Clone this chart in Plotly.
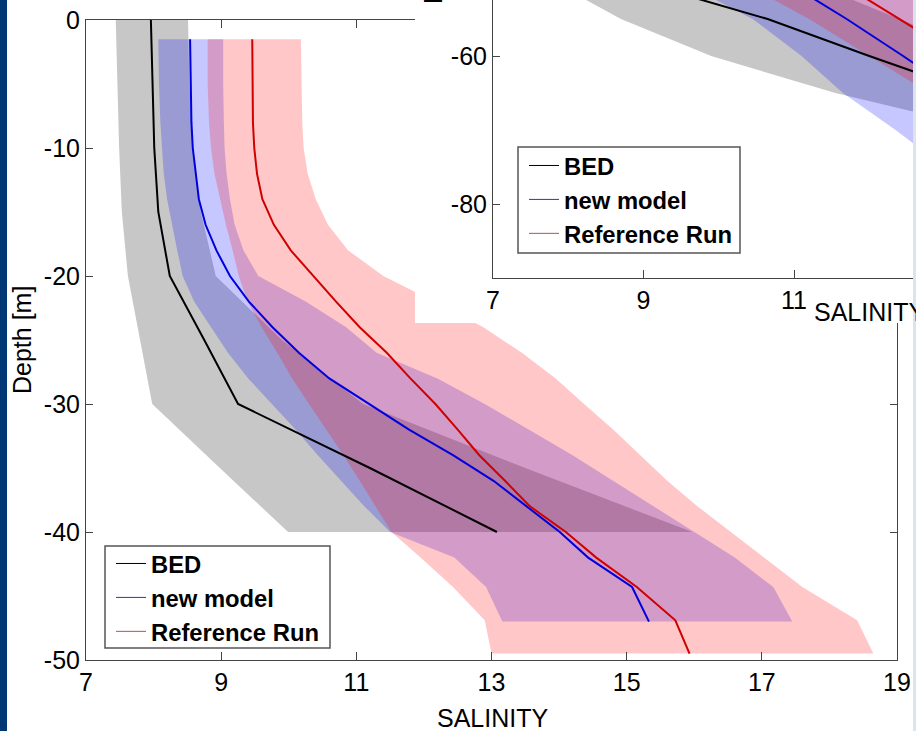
import plotly.graph_objects as go

W, H = 916, 731
FONT = "Liberation Sans, Arial, sans-serif"

# ---------------- main panel data (depth [m], salinity) ----------------
bed_depth = [0, -5, -10, -15, -20, -25, -30, -35, -40]
bed_mean = [7.96, 7.98, 8.01, 8.07, 8.24, 8.75, 9.25, 11.2, 13.08]
bed_lo = [7.44, 7.46, 7.49, 7.53, 7.62, 7.80, 7.98, 8.98, 9.99]
bed_hi = [8.51, 8.53, 8.58, 8.70, 8.92, 9.9, 11.1, 13.5, 15.97]

new_depth = [-1.5, -5, -8, -10, -12, -14, -16, -18, -20, -22, -24, -26, -28, -30,
             -32, -34, -36, -38, -40, -42, -44.3, -47]
new_mean = [8.54, 8.55, 8.56, 8.58, 8.62, 8.67, 8.77, 8.93, 9.13, 9.41, 9.76, 10.15,
            10.6, 11.19, 11.78, 12.43, 13.03, 13.52, 14.01, 14.43, 15.08, 15.33]
new_lo = [8.07, 8.08, 8.10, 8.12, 8.15, 8.20, 8.27, 8.35, 8.43, 8.60, 8.85, 9.10,
          9.40, 9.75, 10.10, 10.43, 10.78, 11.12, 11.50, 12.45, 12.92, 13.16]
new_hi = [9.03, 9.03, 9.04, 9.05, 9.08, 9.13, 9.20, 9.33, 9.55, 10.25, 10.85, 11.30,
          12.20, 12.90, 13.55, 14.20, 14.80, 15.40, 16.00, 16.60, 17.17, 17.45]

ref_depth = [-1.5, -5, -8, -10, -12, -14, -16, -18, -20, -22, -24, -26, -28, -30,
             -32, -34, -36, -38, -40, -42, -44.3, -46.9, -49.5]
ref_mean = [9.46, 9.46, 9.47, 9.49, 9.53, 9.61, 9.78, 10.03, 10.36, 10.70, 11.05,
            11.45, 11.80, 12.17, 12.50, 12.82, 13.20, 13.57, 14.10, 14.55, 15.15,
            15.72, 15.93]
ref_lo = [8.80, 8.80, 8.82, 8.85, 8.90, 8.98, 9.07, 9.17, 9.26, 9.39, 9.60, 9.83,
          10.05, 10.30, 10.56, 10.81, 11.05, 11.28, 11.52, 11.95, 12.43, 12.90, 13.00]
ref_hi = [10.18, 10.19, 10.20, 10.22, 10.28, 10.40, 10.58, 10.88, 11.40, 12.15,
          12.88, 13.45, 13.95, 14.37, 14.80, 15.20, 15.60, 16.05, 16.55, 17.03,
          17.60, 18.41, 18.65]

# ---------------- inset panel data (partly visible) ----------------
ins_bed_depth = [-50, -55, -60, -65, -70]
ins_bed_mean = [8.95, 10.65, 12.0, 13.4, 14.8]
ins_bed_lo = [7.8, 8.7, 9.9, 11.55, 13.6]
ins_bed_hi = [11.2, 12.4, 13.6, 14.8, 16.0]

ins_new_depth = [-50, -55, -60, -65, -70, -75]
ins_new_mean = [10.9, 11.7, 12.45, 13.2, 13.9, 14.6]
ins_new_lo = [9.5, 10.45, 11.1, 11.65, 12.35, 13.0]
ins_new_hi = [13.0, 13.5, 14.0, 14.5, 15.0, 15.5]

ins_ref_depth = [-50, -55, -60, -65, -70]
ins_ref_mean = [11.6, 12.4, 13.2, 14.0, 14.8]
ins_ref_lo = [10.3, 11.2, 12.0, 12.8, 13.5]
ins_ref_hi = [13.0, 13.5, 14.0, 14.5, 15.0]

series_names = ["BED", "new model", "Reference Run"]
x_ticks_main = [7, 9, 11, 13, 15, 17, 19]
y_ticks_main = [0, -10, -20, -30, -40, -50]
x_ticks_inset = [7, 9, 11, 13]
y_ticks_inset = [-80, -60, -40]

BAND = ["rgba(0,0,0,0.22)", "rgba(0,0,255,0.22)", "rgba(255,0,0,0.22)"]
LINE = ["#000000", "#0000dd", "#d00000"]
LEG = ["#000000", "#3030c8", "#cc4848"]

fig = go.Figure()


def band(d, lo, hi, color, xa, ya):
    fig.add_trace(go.Scatter(
        x=list(lo) + list(hi)[::-1], y=list(d) + list(d)[::-1],
        fill="toself", fillcolor=color, mode="lines", line=dict(width=0),
        hoverinfo="skip", showlegend=False, xaxis=xa, yaxis=ya))


def line(d, m, color, xa, ya):
    fig.add_trace(go.Scatter(
        x=m, y=d, mode="lines", line=dict(color=color, width=2),
        showlegend=False, xaxis=xa, yaxis=ya))


def legend_items(xa, ya, leg):
    for name, c in zip(series_names, LEG):
        fig.add_trace(go.Scatter(
            x=[None], y=[None], mode="lines", name=name,
            line=dict(color=c, width=1), xaxis=xa, yaxis=ya, legend=leg))


# main panel
band(bed_depth, bed_lo, bed_hi, BAND[0], "x", "y")
band(new_depth, new_lo, new_hi, BAND[1], "x", "y")
band(ref_depth, ref_lo, ref_hi, BAND[2], "x", "y")
line(bed_depth, bed_mean, LINE[0], "x", "y")
line(new_depth, new_mean, LINE[1], "x", "y")
line(ref_depth, ref_mean, LINE[2], "x", "y")
legend_items("x", "y", "legend")

# white cover behind the inset figure
fig.add_trace(go.Scatter(x=[None], y=[None], mode="lines", showlegend=False,
                         hoverinfo="skip", xaxis="x2", yaxis="y2"))

# inset panel
band(ins_bed_depth, ins_bed_lo, ins_bed_hi, BAND[0], "x3", "y3")
band(ins_new_depth, ins_new_lo, ins_new_hi, BAND[1], "x3", "y3")
band(ins_ref_depth, ins_ref_lo, ins_ref_hi, BAND[2], "x3", "y3")
line(ins_bed_depth, ins_bed_mean, LINE[0], "x3", "y3")
line(ins_new_depth, ins_new_mean, LINE[1], "x3", "y3")
line(ins_ref_depth, ins_ref_mean, LINE[2], "x3", "y3")
legend_items("x3", "y3", "legend2")

tickfont = dict(family=FONT, size=25, color="black")
axc = dict(showgrid=False, zeroline=False, showline=True, linecolor="#444",
           linewidth=1, ticks="inside", tickcolor="#444", tickfont=tickfont,
           automargin=False)


def labels(vals):
    return [str(v) for v in vals]


legfont = dict(family=FONT, size=23.8, color="black", weight="bold")
legc = dict(xanchor="left", yanchor="top", bgcolor="rgba(0,0,0,0)",
            borderwidth=0, font=legfont, itemwidth=30, tracegroupgap=0)


def px_rect(x0, y0, x1, y1, fill="white", edge="#555", width=1.5):
    return dict(type="rect", xref="paper", yref="paper",
                x0=x0 / W, x1=x1 / W, y0=1 - y1 / H, y1=1 - y0 / H,
                fillcolor=fill, line=dict(color=edge, width=width),
                layer="above")


fig.update_layout(
    width=W, height=H, margin=dict(l=0, r=0, t=0, b=0, autoexpand=False),
    paper_bgcolor="white", plot_bgcolor="white", showlegend=True,
    xaxis=dict(domain=[86 / W, 897 / W], range=[7, 19], tickvals=x_ticks_main,
               ticktext=labels(x_ticks_main), mirror="ticks", ticklen=8,
               anchor="y", **axc),
    yaxis=dict(domain=[1 - 660 / H, 1 - 20 / H], range=[-50, 0],
               tickvals=y_ticks_main, ticktext=labels(y_ticks_main),
               mirror="ticks", ticklen=7, anchor="x", **axc),
    xaxis2=dict(domain=[415 / W, 1], range=[0, 1], visible=False, anchor="y2",
                automargin=False),
    yaxis2=dict(domain=[1 - 323 / H, 1], range=[0, 1], visible=False, anchor="x2",
                automargin=False),
    xaxis3=dict(domain=[493 / W, 1], range=[7, 7 + 423 / 75.25],
                tickvals=x_ticks_inset, ticktext=labels(x_ticks_inset),
                ticklen=8, anchor="y3", **axc),
    yaxis3=dict(domain=[1 - 278 / H, 1], range=[-90, -90 + 278 / 7.4],
                tickvals=y_ticks_inset, ticktext=labels(y_ticks_inset),
                ticklen=7, anchor="x3", **axc),
    legend=dict(x=111 / W, y=1 - 541.5 / H, **legc),
    legend2=dict(x=524 / W, y=1 - 143.5 / H, **legc),
    annotations=[
        dict(text="SALINITY", x=492 / W, y=1 - 718 / H, xref="paper", yref="paper",
             showarrow=False, xanchor="center", yanchor="middle",
             font=dict(family=FONT, size=25, color="black")),
        dict(text="Depth [m]", x=22 / W, y=1 - 340 / H, xref="paper", yref="paper",
             showarrow=False, textangle=-90, xanchor="center", yanchor="middle",
             font=dict(family=FONT, size=25, color="black")),
        dict(text="SALINITY", x=812 / W, y=1 - 312 / H, xref="paper", yref="paper",
             showarrow=False, xanchor="left", yanchor="middle",
             font=dict(family=FONT, size=25, color="black")),
        dict(text="Depth [m]", x=433 / W, y=1 - 6 / H, xref="paper", yref="paper",
             showarrow=False, textangle=-90, xanchor="center", yanchor="bottom",
             font=dict(family=FONT, size=25, color="black")),
    ],
    shapes=[
        px_rect(105, 546, 330, 648),
        px_rect(518, 147, 740, 253),
        px_rect(913, 0, 916, 731, fill="#dde3ec", edge="#dde3ec", width=0),
        px_rect(0, 0, 7, 731, fill="#003876", edge="#003876", width=0),
    ],
)

fig.write_html(
    "out.html",
    post_script="document.body.style.margin='0px';"
                "document.documentElement.style.overflow='hidden';"
                "document.body.style.overflow='hidden';",
)
